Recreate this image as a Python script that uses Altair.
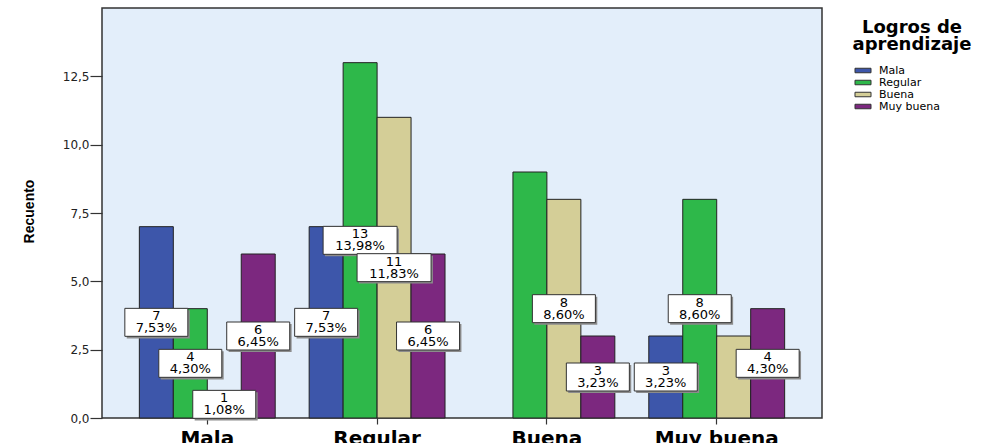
import altair as alt
import pandas as pd

# ---- data -------------------------------------------------------------
categories = ["Mala", "Regular", "Buena", "Muy buena"]
series = ["Mala", "Regular", "Buena", "Muy buena"]
# counts per x-category, in series order (Mala, Regular, Buena, Muy buena)
counts_mala = [7, 4, 1, 6]
counts_regular = [7, 13, 11, 6]
counts_buena = [0, 9, 8, 3]
counts_muy_buena = [3, 8, 3, 4]
# which value labels are visible in the reference (1 = shown)
show_mala = [1, 1, 1, 1]
show_regular = [1, 1, 1, 1]
show_buena = [0, 0, 1, 1]
show_muy_buena = [1, 1, 0, 1]

colors = ["#3D56AA", "#2EB84A", "#D4CE97", "#7C287F"]

rows = []
for cat, cnts, shows in zip(
    categories,
    [counts_mala, counts_regular, counts_buena, counts_muy_buena],
    [show_mala, show_regular, show_buena, show_muy_buena],
):
    for s, c, sh in zip(series, cnts, shows):
        rows.append({"category": cat, "series": s, "count": c, "show": sh})
df = pd.DataFrame(rows)

# ---- encodings -------------------------------------------------------
x_enc = alt.X(
    "category:N",
    sort=categories,
    scale=alt.Scale(paddingInner=0.2, paddingOuter=0.22),
    axis=alt.Axis(
        title=None, labelAngle=0, domain=False, tickSize=6, tickColor="#333",
        tickWidth=1.2, labelPadding=4, labelFont="DejaVu Sans",
        labelFontWeight="bold", labelFontSize=20, labelColor="#000",
    ),
)
xo_enc = alt.XOffset("series:N", sort=series)
y_axis = alt.Axis(
    title="Recuento", values=[0, 2.5, 5, 7.5, 10, 12.5],
    labelExpr="replace(format(datum.value, '.1f'), '.', ',')",
    domain=False, grid=False, tickSize=12, tickColor="#333", tickWidth=1.2,
    labelPadding=1, labelFont="DejaVu Sans", labelFontSize=12, labelColor="#222",
    titleFont="Liberation Sans", titleFontWeight="bold", titleFontSize=14,
    titleColor="#000", titleX=-69, titleY=203, titleAngle=270,
    titleAlign="center", titleBaseline="alphabetic",
)
y_scale = alt.Scale(domain=[0, 15], nice=False)

base = alt.Chart(df)

bars = base.transform_filter("datum.count > 0").mark_bar(
    stroke="#222", strokeWidth=1
).encode(
    x=x_enc,
    xOffset=xo_enc,
    y=alt.Y("count:Q", scale=y_scale, axis=y_axis),
    color=alt.Color(
        "series:N", sort=series,
        scale=alt.Scale(domain=series, range=colors),
        legend=alt.Legend(
            title=None, orient="none", legendX=755.5, legendY=57,
            direction="vertical", padding=0,
            symbolType="M-1.78,-0.5L1.78,-0.5L1.78,0.5L-1.78,0.5Z", symbolSize=81,
            symbolStrokeColor="#333", symbolStrokeWidth=1, symbolOpacity=1,
            labelFont="DejaVu Sans", labelFontSize=11, labelColor="#000",
            labelOffset=10.5, rowPadding=0,
        ),
    ),
)

lab = base.transform_joinaggregate(total="sum(count)").transform_filter(
    "datum.show == 1"
).transform_calculate(
    mid="datum.count / 2",
    label="datum.count + '\\n' + replace(format(datum.count / datum.total * 100, '.2f'), '.', ',') + '%'",
)

y_mid = alt.Y("mid:Q", scale=y_scale, axis=y_axis)


def box_layers(filter_expr, size, box_path, shadow_path):
    sub = lab.transform_filter(filter_expr)
    shadow = sub.mark_point(
        shape=shadow_path, size=size, filled=True, fill="#8c8c8c",
        opacity=1, strokeWidth=0,
    ).encode(x=x_enc, xOffset=xo_enc, y=y_mid)
    box = sub.mark_point(
        shape=box_path, size=size, filled=True, fill="#ffffff",
        stroke="#333", strokeWidth=1, opacity=1,
    ).encode(x=x_enc, xOffset=xo_enc, y=y_mid)
    return shadow, box


sh_n, box_n = box_layers(
    "datum.count < 10", 63 * 63,
    "M-1,-0.444L1,-0.444L1,0.444L-1,0.444Z",
    "M-0.94,-0.38L1.06,-0.38L1.06,0.51L-0.94,0.51Z",
)
sh_w, box_w = box_layers(
    "datum.count >= 10", 74 * 74,
    "M-1,-0.378L1,-0.378L1,0.378L-1,0.378Z",
    "M-0.95,-0.32L1.05,-0.32L1.05,0.43L-0.95,0.43Z",
)

texts = lab.mark_text(
    font="DejaVu Sans", fontSize=13, lineBreak="\n", lineHeight=12,
    baseline="middle", align="center", color="#000", dy=-6,
).encode(x=x_enc, xOffset=xo_enc, y=y_mid, text="label:N")

legend_title = alt.Chart(pd.DataFrame({"a": [0]})).mark_text(
    text=["Logros de", "aprendizaje"], font="DejaVu Sans", fontWeight="bold",
    fontSize=18, lineHeight=17, align="center", baseline="alphabetic",
    color="#000",
).encode(x=alt.value(810), y=alt.value(25))

chart = alt.layer(
    bars, sh_n, sh_w, box_n, box_w, texts, legend_title
).properties(
    width=720, height=410,
    padding={"left": 102, "top": 8, "right": 171, "bottom": 25},
    autosize="none",
    background="#ffffff",
).configure_view(
    fill="#E3EEFA", stroke="#333", strokeWidth=1.5,
)

chart.save("out.html", embed_options={"renderer": "svg", "actions": False})
